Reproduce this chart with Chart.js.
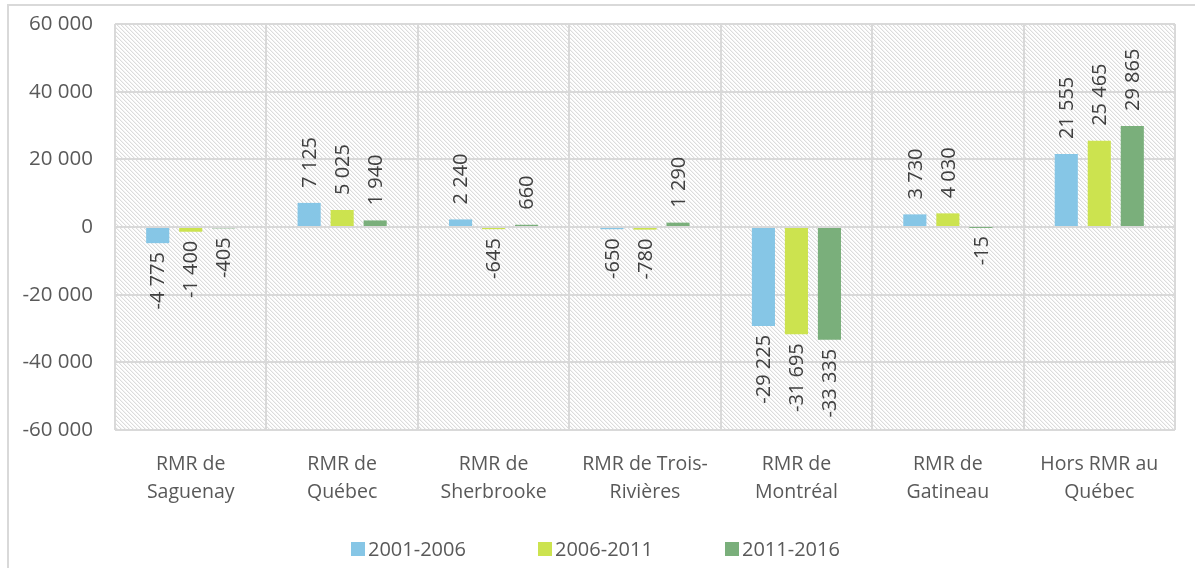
<!DOCTYPE html>
<html>
<head>
<meta charset="utf-8">
<script src="https://cdn.jsdelivr.net/npm/chart.js@4.4.1/dist/chart.umd.min.js"></script>
<style>
  html, body { margin: 0; padding: 0; background: #fff; overflow: hidden; }
  #frame { position: absolute; left: 7px; top: 4px; width: 1200px; height: 600px; border: 2px solid #d9d9d9; }
  #wrap { position: absolute; left: 0; top: 0; width: 1195px; height: 568px; }
</style>
</head>
<body>
<div id="frame"></div>
<div id="wrap"><canvas id="chart" width="1195" height="568"></canvas></div>
<script>
// categories (x axis)
const categories = [
  ['RMR de', 'Saguenay'],
  ['RMR de', 'Québec'],
  ['RMR de', 'Sherbrooke'],
  ['RMR de Trois-', 'Rivières'],
  ['RMR de', 'Montréal'],
  ['RMR de', 'Gatineau'],
  ['Hors RMR au', 'Québec']
];
const seriesNames = ['2001-2006', '2006-2011', '2011-2016'];
const s2001 = [-4775, 7125, 2240, -650, -29225, 3730, 21555];
const s2006 = [-1400, 5025, -645, -780, -31695, 4030, 25465];
const s2011 = [-405, 1940, 660, 1290, -33335, -15, 29865];
const yTicks = [-60000, -40000, -20000, 0, 20000, 40000, 60000];

const colors = ['#86c6e6', '#cce34f', '#7aaf7b'];
const FONT = '"Open Sans", sans-serif';

function fmt(v) {
  const s = String(Math.abs(v)).replace(/\B(?=(\d{3})+(?!\d))/g, ' ');
  return v < 0 ? '-' + s : s;
}

// hatched plot background
function makeHatch() {
  const c = document.createElement('canvas');
  c.width = 4; c.height = 4;
  const g = c.getContext('2d');
  const img = g.createImageData(4, 4);
  for (let y = 0; y < 4; y++) {
    for (let x = 0; x < 4; x++) {
      const d = ((x - y) % 4 + 4) % 4;
      const v = d === 0 ? 220 : (d === 1 ? 243 : 255);
      const i = (y * 4 + x) * 4;
      img.data[i] = v; img.data[i + 1] = v; img.data[i + 2] = v; img.data[i + 3] = 255;
    }
  }
  g.putImageData(img, 0, 0);
  return c;
}

const hatchBg = {
  id: 'hatchBg',
  beforeDraw(chart) {
    const a = chart.chartArea, ctx = chart.ctx;
    ctx.save();
    ctx.fillStyle = ctx.createPattern(makeHatch(), 'repeat');
    ctx.fillRect(a.left, a.top, a.right - a.left, a.bottom - a.top);
    ctx.restore();
  }
};

const barLabels = {
  id: 'barLabels',
  afterDatasetsDraw(chart) {
    const ctx = chart.ctx;
    ctx.save();
    ctx.font = '20px ' + FONT;
    ctx.fillStyle = '#404040';
    ctx.textBaseline = 'middle';
    chart.data.datasets.forEach((ds, di) => {
      chart.getDatasetMeta(di).data.forEach((bar, i) => {
        const v = ds.data[i];
        ctx.save();
        if (v >= 0) {
          ctx.translate(bar.x, bar.y - 15);
          ctx.rotate(-Math.PI / 2);
          ctx.textAlign = 'left';
        } else {
          ctx.translate(bar.x, bar.y + 9);
          ctx.rotate(-Math.PI / 2);
          ctx.textAlign = 'right';
        }
        ctx.fillText(fmt(v), 0, 1);
        ctx.restore();
      });
    });
    ctx.restore();
  }
};

const bottomLegend = {
  id: 'bottomLegend',
  afterDraw(chart) {
    const ctx = chart.ctx;
    ctx.save();
    ctx.font = '20px ' + FONT;
    ctx.textBaseline = 'middle';
    ctx.textAlign = 'left';
    const box = 14, gap = 3, step = 187;
    const y = 549;
    let x = 351;
    chart.data.datasets.forEach((ds) => {
      ctx.fillStyle = ds.backgroundColor;
      ctx.fillRect(x, y - box / 2, box, box);
      ctx.fillStyle = '#595959';
      ctx.fillText(ds.label, x + box + gap, y + 1);
      x += step;
    });
    ctx.restore();
  }
};

new Chart(document.getElementById('chart'), {
  type: 'bar',
  data: {
    labels: categories,
    datasets: [
      { label: seriesNames[0], data: s2001, backgroundColor: colors[0] },
      { label: seriesNames[1], data: s2006, backgroundColor: colors[1] },
      { label: seriesNames[2], data: s2011, backgroundColor: colors[2] }
    ]
  },
  options: {
    responsive: false,
    animation: false,
    categoryPercentage: 0.654,
    barPercentage: 0.70,
    layout: { padding: { left: 0, right: 20, top: 24, bottom: 0 } },
    plugins: {
      legend: { display: false },
      tooltip: { enabled: false }
    },
    scales: {
      x: {
        grid: { color: '#d9d9d9', lineWidth: 2, drawTicks: false, offset: true },
        border: { display: false },
        ticks: {
          color: '#595959',
          font: { family: FONT, size: 19.5, lineHeight: 1.42 },
          padding: 21,
          maxRotation: 0,
          autoSkip: false
        },
        afterFit(scale) { scale.height = 138; }
      },
      y: {
        min: -60000,
        max: 60000,
        afterBuildTicks(scale) { scale.ticks = yTicks.map(v => ({ value: v })); },
        grid: { color: '#d9d9d9', lineWidth: 2, drawTicks: false },
        border: { display: false },
        ticks: {
          color: '#595959',
          font: { family: FONT, size: 20.5 },
          padding: 22,
          callback: (v) => fmt(v)
        },
        afterFit(scale) {
          scale.width = 115;
          scale.paddingTop = 0;
          scale.paddingBottom = 0;
        }
      }
    }
  },
  plugins: [hatchBg, barLabels, bottomLegend]
});
</script>
</body>
</html>
